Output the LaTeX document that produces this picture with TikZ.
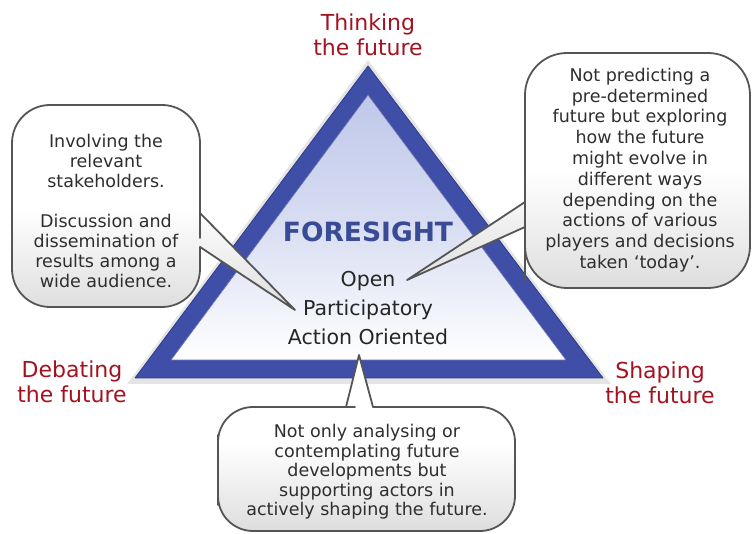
\documentclass[tikz,border=0pt]{standalone}
\usepackage{fontspec}
\setmainfont{DejaVu Sans}
\usetikzlibrary{shadings}
\definecolor{labelred}{HTML}{A3121F}
\definecolor{bandblue}{HTML}{3F4FA8}
\definecolor{banddark}{HTML}{2C3A8C}
\definecolor{innertop}{HTML}{BFC8EA}
\definecolor{foretext}{HTML}{3A4B96}
\definecolor{calloutline}{HTML}{555555}
\tikzset{
  corner/.style={text=labelred, align=center, font=\fontsize{22}{24.5}\selectfont},
  callout/.style={draw=calloutline, line width=1.8pt, top color=white, bottom color=black!13, middle color=white, line join=round},
  callouttext/.style={align=center, text=black!82, font=\fontsize{17.5}{20}\selectfont},
}
\begin{document}
\begin{tikzpicture}[x=1pt,y=-1pt]
\useasboundingbox (0,0) rectangle (753,534);
% triangle
\coordinate (oa) at (368,66);
\coordinate (ol) at (135,378);
\coordinate (or) at (603,378);
\coordinate (ia) at (368,95);
\coordinate (il) at (171,360);
\coordinate (ir) at (566,360);
\fill[black!10] (368,60) -- (127,384) -- (611,384) -- cycle;
\filldraw[fill=bandblue, draw=banddark, line width=0.8pt, line join=round] (oa) -- (ol) -- (or) -- cycle;
\shade[top color=innertop, bottom color=white, middle color=innertop!60!white] (ia) -- (il) -- (ir) -- cycle;
\draw[banddark!70, line width=0.6pt] (ia) -- (il) -- (ir) -- cycle;
% labels
\node[corner] (think) at (368,35) {Thinking\\the future};
\node[corner] (debate) at (72,382) {Debating\\the future};
\node[corner] (shape) at (660,383) {Shaping\\the future};
\node[text=foretext, font=\bfseries\fontsize{26.5}{30}\selectfont] (fore) at (368,232) {FORESIGHT};
\node[align=center, text=black!85, font=\fontsize{20.5}{29}\selectfont] (values) at (368,308) {Open\\Participatory\\Action Oriented};
% left callout
\coordinate (ltip) at (295,310);
\draw[callout, rounded corners=38] (12,205) -- (12,105) -- (200,105) -- (200,200) [sharp corners] -- (200,213) -- (ltip) -- (200,247) -- (200,260) [rounded corners=38] -- (200,307) -- (12,307) -- cycle;
\node[callouttext] (ltext) at (106,211) {Involving the\\relevant\\stakeholders.\\[20pt]Discussion and\\dissemination of\\results among a\\wide audience.};
% right callout
\coordinate (rtip) at (407,280);
\draw[callout, rounded corners=42] (640,53) -- (750,53) -- (750,288) -- (525,288) -- (525,240) [sharp corners] -- (525,227) -- (rtip) -- (525,202) -- (525,190) [rounded corners=42] -- (525,53) -- cycle;
\node[callouttext, font=\fontsize{17.5}{20.8}\selectfont] (rtext) at (640,170) {Not predicting a\\pre-determined\\future but exploring\\how the future\\might evolve in\\different ways\\depending on the\\actions of various\\players and decisions\\taken ‘today’.};
% bottom callout
\coordinate (btip) at (359,355);
\draw[callout, rounded corners=35] (218,470) -- (218,407) -- (320,407) [sharp corners] -- (346,407) -- (btip) -- (373,407) -- (390,407) [rounded corners=35] -- (515,407) -- (515,531) -- (218,531) -- cycle;
\node[callouttext, font=\fontsize{17.5}{19.5}\selectfont] (btext) at (367,472) {Not only analysing or\\contemplating future\\developments but\\supporting actors in\\actively shaping the future.};
\end{tikzpicture}
\end{document}
